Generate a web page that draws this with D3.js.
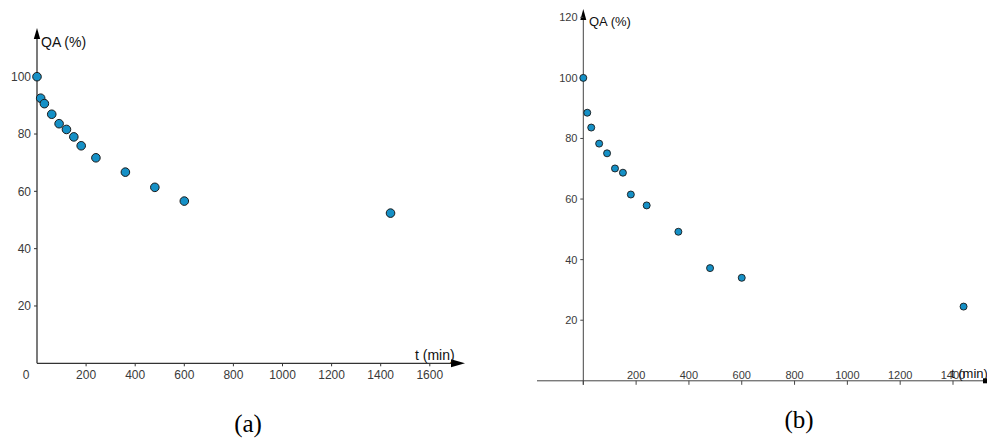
<!DOCTYPE html>
<html>
<head>
<meta charset="utf-8">
<script src="https://cdn.jsdelivr.net/npm/d3@7/dist/d3.min.js"></script>
<style>
html,body{margin:0;padding:0;background:#fff;}
svg{display:block;}
</style>
</head>
<body>
<svg id="chart" width="987" height="439"></svg>
<script>
// ---- data ----
const timeA = [0, 15, 30, 60, 90, 120, 150, 180, 240, 360, 480, 600, 1440];
const qaA   = [100, 92.5, 90.6, 86.9, 83.6, 81.6, 79.0, 75.9, 71.7, 66.7, 61.4, 56.6, 52.4];
const timeB = [0, 15, 30, 60, 90, 120, 150, 180, 240, 360, 480, 600, 1440];
const qaB   = [100, 88.5, 83.6, 78.3, 75.1, 70.1, 68.7, 61.5, 57.9, 49.2, 37.2, 34.0, 24.5];
const xTicksA = [200, 400, 600, 800, 1000, 1200, 1400, 1600];
const yTicksA = [20, 40, 60, 80, 100];
const xTicksB = [200, 400, 600, 800, 1000, 1200, 1400];
const yTicksB = [20, 40, 60, 80, 100, 120];
const yLabel = "QA (%)";
const xLabel = "t (min)";
const captions = ["(a)", "(b)"];

const svg = d3.select("#chart");
const font = "'Liberation Sans', Arial, sans-serif";
const dotFill = "#1590c6";
const dotStroke = "#1a1a1a";
const textCol = "#3a3a3a";

// ---- panel a ----
(function(){
  const x = d3.scaleLinear().domain([0, 1600]).range([37, 429.8]);
  const y = d3.scaleLinear().domain([0, 100]).range([363.3, 76.7]);
  const g = svg.append("g");
  const axCol = "#333";
  // axes lines
  g.append("line").attr("x1", x(0)).attr("x2", 452).attr("y1", y(0)).attr("y2", y(0))
    .attr("stroke", axCol).attr("stroke-width", 1.3);
  g.append("line").attr("x1", x(0)).attr("x2", x(0)).attr("y1", y(0)).attr("y2", 38)
    .attr("stroke", axCol).attr("stroke-width", 1.3);
  // arrows
  g.append("path").attr("d", `M465,${y(0)} L451,${y(0)-4} L451,${y(0)+4} Z`).attr("fill", "#000");
  g.append("path").attr("d", `M${x(0)},28 L${x(0)-3.2},39 L${x(0)+3.2},39 Z`).attr("fill", "#000");
  // x ticks
  const xt = g.selectAll(".xt").data(xTicksA).enter();
  xt.append("line").attr("x1", d => x(d)).attr("x2", d => x(d))
    .attr("y1", y(0)).attr("y2", y(0) + 3).attr("stroke", axCol);
  xt.append("text").attr("x", d => x(d)).attr("y", 379).attr("text-anchor", "middle")
    .attr("font-family", font).attr("font-size", 12).attr("fill", textCol).text(d => d);
  g.append("text").attr("x", 26).attr("y", 379).attr("text-anchor", "middle")
    .attr("font-family", font).attr("font-size", 12).attr("fill", textCol).text(0);
  // y ticks
  const yt = g.selectAll(".yt").data(yTicksA).enter();
  yt.append("line").attr("x1", x(0) - 3).attr("x2", x(0))
    .attr("y1", d => y(d)).attr("y2", d => y(d)).attr("stroke", axCol);
  yt.append("text").attr("x", 31).attr("y", d => y(d) + 4.3).attr("text-anchor", "end")
    .attr("font-family", font).attr("font-size", 12).attr("fill", textCol).text(d => d);
  // labels
  g.append("text").attr("x", 41).attr("y", 47).attr("font-family", font).attr("font-size", 14)
    .attr("fill", "#111").text(yLabel);
  g.append("text").attr("x", 415).attr("y", 360).attr("font-family", font).attr("font-size", 14)
    .attr("fill", "#111").text(xLabel);
  // dots
  g.selectAll(".dot").data(timeA.map((t, i) => [t, qaA[i]])).enter().append("circle")
    .attr("cx", d => x(d[0])).attr("cy", d => y(d[1])).attr("r", 4.3)
    .attr("fill", dotFill).attr("stroke", dotStroke).attr("stroke-width", 1);
  // caption
  g.append("text").attr("x", 248).attr("y", 432).attr("text-anchor", "middle")
    .attr("font-family", "'Liberation Serif', 'Times New Roman', serif").attr("font-size", 25)
    .attr("fill", "#000").text(captions[0]);
})();

// ---- panel b ----
(function(){
  const x = d3.scaleLinear().domain([0, 1400]).range([583.3, 953]);
  const y = d3.scaleLinear().domain([0, 120]).range([380.8, 17.3]);
  const g = svg.append("g");
  const axCol = "#444";
  g.append("line").attr("x1", 537).attr("x2", 984).attr("y1", y(0)).attr("y2", y(0))
    .attr("stroke", axCol).attr("stroke-width", 1);
  g.append("line").attr("x1", x(0)).attr("x2", x(0)).attr("y1", y(0) + 4).attr("y2", 18)
    .attr("stroke", axCol).attr("stroke-width", 1);
  g.append("path").attr("d", `M${x(0)},9 L${x(0)-3},20 L${x(0)+3},20 Z`).attr("fill", "#000");
  g.append("rect").attr("x", 983).attr("y", y(0) - 2.5).attr("width", 4).attr("height", 5).attr("fill", "#000");
  // x ticks
  const xt = g.selectAll(".xt").data([0].concat(xTicksB)).enter();
  xt.append("line").attr("x1", d => x(d)).attr("x2", d => x(d))
    .attr("y1", y(0)).attr("y2", y(0) + 4).attr("stroke", axCol);
  g.selectAll(".xl").data(xTicksB).enter().append("text")
    .attr("x", d => x(d)).attr("y", 379).attr("text-anchor", "middle")
    .attr("font-family", font).attr("font-size", 11).attr("fill", textCol).text(d => d);
  // y ticks
  const yt = g.selectAll(".yt").data(yTicksB).enter();
  yt.append("line").attr("x1", x(0) - 3).attr("x2", x(0))
    .attr("y1", d => y(d)).attr("y2", d => y(d)).attr("stroke", axCol);
  yt.append("text").attr("x", 577.5).attr("y", d => y(d) + 4).attr("text-anchor", "end")
    .attr("font-family", font).attr("font-size", 11).attr("fill", textCol).text(d => d);
  // labels
  g.append("text").attr("x", 589).attr("y", 26).attr("font-family", font).attr("font-size", 13)
    .attr("fill", "#111").text(yLabel);
  g.append("text").attr("x", 951).attr("y", 378).attr("font-family", font).attr("font-size", 13)
    .attr("fill", "#111").text(xLabel);
  // dots
  g.selectAll(".dot").data(timeB.map((t, i) => [t, qaB[i]])).enter().append("circle")
    .attr("cx", d => x(d[0])).attr("cy", d => y(d[1])).attr("r", 3.5)
    .attr("fill", dotFill).attr("stroke", dotStroke).attr("stroke-width", 0.9);
  g.append("text").attr("x", 799).attr("y", 428).attr("text-anchor", "middle")
    .attr("font-family", "'Liberation Serif', 'Times New Roman', serif").attr("font-size", 25)
    .attr("fill", "#000").text(captions[1]);
})();
</script>
</body>
</html>
